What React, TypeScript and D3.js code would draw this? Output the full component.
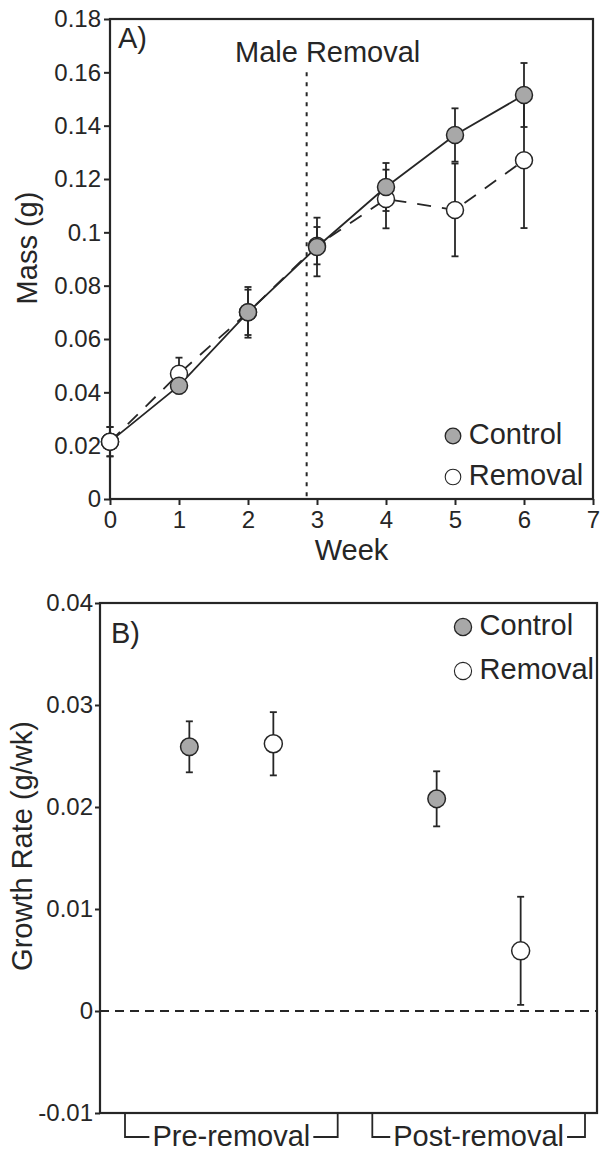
import * as d3 from "d3";
import { useRef, useEffect } from "react";

// Panel A: body mass by week
const weeks = [0, 1, 2, 3, 4, 5, 6];
const controlMass = [0.0215, 0.0425, 0.07, 0.0945, 0.117, 0.1365, 0.1515];
const controlMassErr = [0.0055, 0.003, 0.0085, 0.011, 0.009, 0.01, 0.012];
const removalMass = [0.0215, 0.047, 0.07, 0.095, 0.1125, 0.1084, 0.127];
const removalMassErr = [0.0055, 0.006, 0.0095, 0.007, 0.011, 0.0174, 0.0254];
const maleRemovalWeek = 2.85;

const weekTicks = [0, 1, 2, 3, 4, 5, 6, 7];
const massTicks = [0, 0.02, 0.04, 0.06, 0.08, 0.1, 0.12, 0.14, 0.16, 0.18];
const massTickLabels = ["0", "0.02", "0.04", "0.06", "0.08", "0.1", "0.12", "0.14", "0.16", "0.18"];

// Panel B: growth rate before / after removal
const periods = ["Pre-removal", "Post-removal"];
const treatments = ["Control", "Removal"];
const controlGrowth = [0.0259, 0.0208];
const controlGrowthErr = [0.0025, 0.0027];
const removalGrowth = [0.0262, 0.0059];
const removalGrowthErr = [0.0031, 0.0053];

const growthTicks = [-0.01, 0, 0.01, 0.02, 0.03, 0.04];
const growthTickLabels = ["-0.01", "0", "0.01", "0.02", "0.03", "0.04"];

function App() {
  const chartRef = useRef<SVGSVGElement>(null);
  const width = 602;
  const height = 1151;

  useEffect(() => {
    const svg = d3.select(chartRef.current);
    svg.selectAll("*").remove();

    const font = "'Liberation Sans', Arial, Helvetica, sans-serif";
    const ink = "#262626";
    const grey = "#a8a8a8";
    const big = 29;
    const tick = 24;

    const styleAxis = (g, size) => {
      g.select(".domain").remove();
      g.selectAll("line").attr("stroke", ink).attr("stroke-width", 2);
      g.selectAll("text")
        .attr("font-family", font)
        .attr("font-size", size)
        .attr("fill", ink);
    };

    // ---------- Panel A ----------
    const xA = d3.scaleLinear().domain([0, 7]).range([110, 593]);
    const yA = d3.scaleLinear().domain([0, 0.18]).range([499, 19]);

    svg.append("g")
      .attr("transform", `translate(${xA(0)},0)`)
      .call(d3.axisLeft(yA).tickValues(massTicks).tickFormat((d, i) => massTickLabels[i]).tickSize(6).tickPadding(3))
      .call((g) => styleAxis(g, tick));

    svg.append("g")
      .attr("transform", `translate(0,${yA(0)})`)
      .call(d3.axisBottom(xA).tickValues(weekTicks).tickFormat(d3.format("d")).tickSize(6).tickPadding(6))
      .call((g) => styleAxis(g, tick));

    svg.append("rect")
      .attr("x", xA(0)).attr("y", yA(0.18))
      .attr("width", xA(7) - xA(0)).attr("height", yA(0) - yA(0.18))
      .attr("fill", "none").attr("stroke", ink).attr("stroke-width", 2.2);

    // male removal marker
    svg.append("line")
      .attr("x1", xA(maleRemovalWeek)).attr("x2", xA(maleRemovalWeek))
      .attr("y1", yA(0.16)).attr("y2", yA(0))
      .attr("stroke", ink).attr("stroke-width", 2)
      .attr("stroke-dasharray", "4 6");

    svg.append("text")
      .attr("x", xA(maleRemovalWeek) + 21).attr("y", 62)
      .attr("text-anchor", "middle")
      .attr("font-family", font).attr("font-size", big).attr("fill", ink)
      .text("Male Removal");

    svg.append("text")
      .attr("x", 118).attr("y", 48)
      .attr("font-family", font).attr("font-size", big).attr("fill", ink)
      .text("A)");

    const line = d3.line().x((d) => xA(d[0])).y((d) => yA(d[1]));

    svg.append("path")
      .attr("d", line(weeks.map((w, i) => [w, removalMass[i]])))
      .attr("fill", "none").attr("stroke", ink).attr("stroke-width", 1.8)
      .attr("stroke-dasharray", "14 11");

    svg.append("path")
      .attr("d", line(weeks.map((w, i) => [w, controlMass[i]])))
      .attr("fill", "none").attr("stroke", ink).attr("stroke-width", 1.8);

    const errorBars = (g, xs, ys, es, xScale, yScale) => {
      xs.forEach((xv, i) => {
        const cx = xScale(xv);
        const top = yScale(ys[i] + es[i]);
        const bot = yScale(ys[i] - es[i]);
        g.append("line").attr("x1", cx).attr("x2", cx).attr("y1", top).attr("y2", bot);
        g.append("line").attr("x1", cx - 3.5).attr("x2", cx + 3.5).attr("y1", top).attr("y2", top);
        g.append("line").attr("x1", cx - 3.5).attr("x2", cx + 3.5).attr("y1", bot).attr("y2", bot);
      });
      g.attr("stroke", ink).attr("stroke-width", 1.8);
    };

    errorBars(svg.append("g"), weeks, removalMass, removalMassErr, xA, yA);
    errorBars(svg.append("g"), weeks, controlMass, controlMassErr, xA, yA);

    const markers = (g, xs, ys, fill, xScale, yScale, r) => {
      g.selectAll("circle")
        .data(xs.map((xv, i) => [xv, ys[i]]))
        .join("circle")
        .attr("cx", (d) => xScale(d[0]))
        .attr("cy", (d) => yScale(d[1]))
        .attr("r", r)
        .attr("fill", fill)
        .attr("stroke", ink)
        .attr("stroke-width", 1.5);
    };

    markers(svg.append("g"), weeks, removalMass, "#fff", xA, yA, 8.5);
    markers(svg.append("g"), weeks, controlMass, grey, xA, yA, 8.5);
    // both groups start from the same point; the open marker sits on top there
    markers(svg.append("g"), weeks.slice(0, 1), removalMass.slice(0, 1), "#fff", xA, yA, 8.5);

    svg.append("text")
      .attr("x", (xA(0) + xA(7)) / 2).attr("y", 560)
      .attr("text-anchor", "middle")
      .attr("font-family", font).attr("font-size", big).attr("fill", ink)
      .text("Week");

    svg.append("text")
      .attr("transform", `translate(37,${(yA(0) + yA(0.18)) / 2 - 11}) rotate(-90)`)
      .attr("text-anchor", "middle")
      .attr("font-family", font).attr("font-size", big).attr("fill", ink)
      .text("Mass (g)");

    const legend = (x, y, gap, r) => {
      treatments.forEach((t, i) => {
        svg.append("circle")
          .attr("cx", x).attr("cy", y + i * gap).attr("r", r)
          .attr("fill", i === 0 ? grey : "#fff")
          .attr("stroke", ink).attr("stroke-width", i === 0 ? 1.3 : 1.1);
        svg.append("text")
          .attr("x", x + r + 8).attr("y", y + i * gap + 8)
          .attr("font-family", font).attr("font-size", big).attr("fill", ink)
          .text(t);
      });
    };
    legend(453, 436, 41, 7.8);

    // ---------- Panel B ----------
    const yB = d3.scaleLinear().domain([-0.01, 0.04]).range([1113, 603]);
    const xB = d3.scaleBand().domain(periods).range([125, 585]).paddingInner(0.14).paddingOuter(0);
    const bw = xB.bandwidth();
    const xT = d3.scalePoint().domain(treatments).range([bw / 2 - 42, bw / 2 + 42]);

    svg.append("g")
      .attr("transform", `translate(100,0)`)
      .call(d3.axisLeft(yB).tickValues(growthTicks).tickFormat((d, i) => growthTickLabels[i]).tickSize(5).tickPadding(2))
      .call((g) => styleAxis(g, tick));

    svg.append("rect")
      .attr("x", 100).attr("y", yB(0.04))
      .attr("width", 497).attr("height", yB(-0.01) - yB(0.04))
      .attr("fill", "none").attr("stroke", ink).attr("stroke-width", 2.2);

    svg.append("line")
      .attr("x1", 100).attr("x2", 597)
      .attr("y1", yB(0)).attr("y2", yB(0))
      .attr("stroke", ink).attr("stroke-width", 2)
      .attr("stroke-dasharray", "9 6");

    svg.append("text")
      .attr("x", 111).attr("y", 643)
      .attr("font-family", font).attr("font-size", big).attr("fill", ink)
      .text("B)");

    // brackets under the axis
    periods.forEach((p) => {
      const x0 = xB(p);
      const x1 = x0 + bw;
      svg.append("path")
        .attr("d", `M${x0},${yB(-0.01)}V1137H${x1}V${yB(-0.01)}`)
        .attr("fill", "none").attr("stroke", ink).attr("stroke-width", 1.8);
      const bg = svg.append("rect").attr("fill", "#fff");
      const label = svg.append("text")
        .attr("x", x0 + bw / 2).attr("y", 1146)
        .attr("text-anchor", "middle")
        .attr("font-family", font).attr("font-size", big).attr("fill", ink)
        .text(p);
      const bb = label.node().getBBox();
      bg.attr("x", bb.x - 3).attr("y", 1128).attr("width", bb.width + 6).attr("height", 20);
    });

    const groupX = (t) => (p) => xB(p) + xT(t);
    const ctrlX = d3.scaleOrdinal().domain(periods).range(periods.map(groupX("Control")));
    const remX = d3.scaleOrdinal().domain(periods).range(periods.map(groupX("Removal")));

    errorBars(svg.append("g"), periods, controlGrowth, controlGrowthErr, ctrlX, yB);
    errorBars(svg.append("g"), periods, removalGrowth, removalGrowthErr, remX, yB);
    markers(svg.append("g"), periods, controlGrowth, grey, ctrlX, yB, 8.8);
    markers(svg.append("g"), periods, removalGrowth, "#fff", remX, yB, 9);

    svg.append("text")
      .attr("transform", `translate(32,${(yB(-0.01) + yB(0.04)) / 2 - 12}) rotate(-90)`)
      .attr("text-anchor", "middle")
      .attr("font-family", font).attr("font-size", big).attr("fill", ink)
      .text("Growth Rate (g/wk)");

    legend(463, 627, 44, 8.6);
  }, []);

  return (
    <svg
      ref={chartRef}
      width={width}
      height={height}
      viewBox={`0 0 ${width} ${height}`}
      style={{ position: "absolute", left: 0, top: 0, background: "#fff" }}
    />
  );
}

export default App;
